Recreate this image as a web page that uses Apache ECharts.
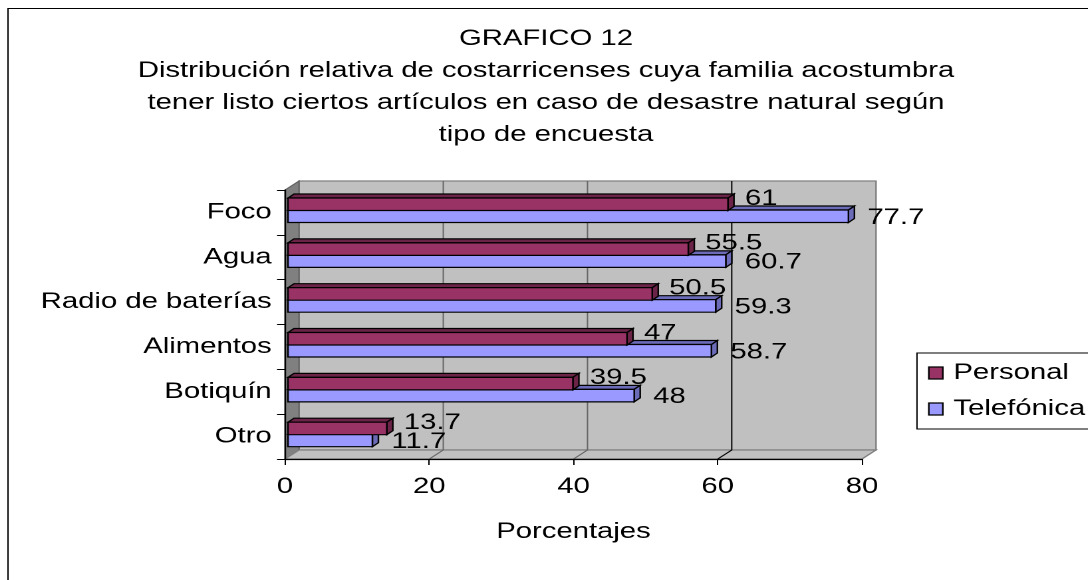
<!DOCTYPE html>
<html>
<head>
<meta charset="utf-8">
<script src="https://cdn.jsdelivr.net/npm/echarts@6/dist/echarts.min.js"></script>
<style>
  html, body { margin: 0; padding: 0; background: #fff; overflow: hidden; }
  /* the source picture is stretched sideways, so the chart is drawn narrow and scaled */
  #chart { width: 818px; height: 580px; transform: scaleX(1.33); transform-origin: 0 0; }
</style>
</head>
<body>
<div id="chart"></div>
<script>
const categories = ['Foco', 'Agua', 'Radio de baterías', 'Alimentos', 'Botiquín', 'Otro'];
const personal = [61, 55.5, 50.5, 47, 39.5, 13.7];
const telefonica = [77.7, 60.7, 59.3, 58.7, 48, 11.7];
const xTicks = [0, 20, 40, 60, 80];

const S = 1.33;
const X = v => v / S;          // real horizontal pixels -> chart pixels
const FONT = 'Liberation Sans, Arial, sans-serif';
const WALL_DX = X(14), WALL_DY = 9;
const CAP_DX = X(6), CAP_DY = 4;
const BAR_H = 12.5;

function barRenderer(offY, labelDx, labelDy, front, shade) {
  return function (params, api) {
    const v = api.value(0), idx = api.value(1);
    const a = api.coord([0, idx]);
    const b = api.coord([v, idx]);
    const x0 = a[0] + X(3), x1 = b[0] + X(3);
    const yT = a[1] + offY, yB = yT + BAR_H;
    const line = { stroke: '#000', lineWidth: 1.2 };
    return {
      type: 'group',
      children: [
        { type: 'polygon', shape: { points: [[x0, yT], [x0 + CAP_DX, yT - CAP_DY], [x1 + CAP_DX, yT - CAP_DY], [x1, yT]] },
          style: Object.assign({ fill: shade }, line) },
        { type: 'polygon', shape: { points: [[x1, yT], [x1 + CAP_DX, yT - CAP_DY], [x1 + CAP_DX, yB - CAP_DY], [x1, yB]] },
          style: Object.assign({ fill: shade }, line) },
        { type: 'rect', shape: { x: x0, y: yT, width: x1 - x0, height: BAR_H },
          style: Object.assign({ fill: front }, line) },
        { type: 'text', style: { text: String(v), x: x1 + X(labelDx), y: yT + BAR_H / 2 + labelDy,
          fill: '#000', fontSize: 22, fontFamily: FONT, align: 'left', verticalAlign: 'middle' } }
      ]
    };
  };
}

const chart = echarts.init(document.getElementById('chart'), null, { devicePixelRatio: 2 });

const option = {
  backgroundColor: '#fff',
  animation: false,
  textStyle: { fontFamily: FONT, color: '#000' },
  title: {
    text: 'GRAFICO 12\nDistribución relativa de costarricenses cuya familia acostumbra\ntener listo ciertos artículos en caso de desastre natural según\ntipo de encuesta',
    left: X(546),
    textAlign: 'center',
    top: 23,
    padding: 0,
    textStyle: { fontFamily: FONT, fontSize: 22, fontWeight: 'normal', color: '#000', lineHeight: 32 }
  },
  legend: {
    orient: 'vertical',
    left: X(917),
    top: 353,
    itemWidth: X(14),
    itemHeight: 12,
    itemGap: 12,
    padding: [8, 60, 8, X(11)],
    borderColor: '#000',
    borderWidth: 1,
    icon: 'rect',
    itemStyle: { borderColor: '#000', borderWidth: 1.2 },
    textStyle: { fontFamily: FONT, fontSize: 22, color: '#000', lineHeight: 24, padding: [0, 0, 0, 3] },
    data: ['Personal', 'Telefónica']
  },
  grid: { left: X(285), top: 190, width: X(577), height: 269, show: false },
  xAxis: {
    type: 'value',
    min: 0, max: 80, interval: 20,
    axisLine: { show: true, lineStyle: { color: '#000', width: 1.2 } },
    axisTick: { show: true, length: 6, lineStyle: { color: '#000' } },
    splitLine: { show: false },
    axisLabel: { fontFamily: FONT, fontSize: 22, color: '#000', margin: 17,
      formatter: v => xTicks.includes(v) ? String(v) : '' },
    name: 'Porcentajes',
    nameLocation: 'middle',
    nameGap: 62,
    nameTextStyle: { fontFamily: FONT, fontSize: 22, color: '#000' }
  },
  yAxis: {
    type: 'category',
    inverse: true,
    data: categories,
    axisLine: { show: true, lineStyle: { color: '#000', width: 1.2 } },
    axisTick: { show: true, length: 6, lineStyle: { color: '#000' } },
    axisLabel: { fontFamily: FONT, fontSize: 22, color: '#000', margin: 10, padding: [5, 0, 0, 0] }
  },
  series: [
    {
      name: 'Telefónica', type: 'custom', coordinateSystem: 'cartesian2d',
      itemStyle: { color: '#9999ff' },
      encode: { x: 0, y: 1 },
      data: telefonica.map((v, i) => [v, i]),
      renderItem: barRenderer(-2.4, 19, 1.5, '#9999ff', '#6b6bb8'),
      z: 3
    },
    {
      name: 'Personal', type: 'custom', coordinateSystem: 'cartesian2d',
      itemStyle: { color: '#993366' },
      encode: { x: 0, y: 1 },
      data: personal.map((v, i) => [v, i]),
      renderItem: barRenderer(-14.4, 17, -5.5, '#993366', '#6b2447'),
      z: 4
    }
  ]
};

chart.setOption(option);

// 3-D side wall, back wall and floor, placed from the axis scales
const rect = chart.getModel().getComponent('grid').coordinateSystem.getRect();
const x0 = rect.x, y0 = rect.y, x1 = rect.x + rect.width, y1 = rect.y + rect.height;
const gfx = [];
gfx.push({ type: 'rect', z: -20, shape: { x: X(8), y: 8.5, width: 900, height: 600 },
  style: { fill: '#fff', stroke: '#000', lineWidth: 1 } });
gfx.push({ type: 'polygon', z: -10, shape: { points: [[x0 + WALL_DX, y0 - WALL_DY], [x1 + WALL_DX, y0 - WALL_DY], [x1 + WALL_DX, y1 - WALL_DY], [x0 + WALL_DX, y1 - WALL_DY]] },
  style: { fill: '#c0c0c0', stroke: '#808080', lineWidth: 1.2 } });
gfx.push({ type: 'polygon', z: -9, shape: { points: [[x0, y0], [x0 + WALL_DX, y0 - WALL_DY], [x0 + WALL_DX, y1 - WALL_DY], [x0, y1]] },
  style: { fill: '#808080', stroke: '#606060', lineWidth: 1 } });
gfx.push({ type: 'polygon', z: -9, shape: { points: [[x0, y1], [x0 + WALL_DX, y1 - WALL_DY], [x1 + WALL_DX, y1 - WALL_DY], [x1, y1]] },
  style: { fill: '#c0c0c0', stroke: '#808080', lineWidth: 1.2 } });
xTicks.slice(1, -1).forEach(v => {
  const px = chart.convertToPixel({ xAxisIndex: 0 }, v);
  gfx.push({ type: 'polyline', z: -8, shape: { points: [[px, y1], [px + WALL_DX, y1 - WALL_DY], [px + WALL_DX, y0 - WALL_DY]] },
    style: { stroke: v === 60 ? '#000' : '#666', lineWidth: 1, fill: null } });
});
chart.setOption({ graphic: gfx });
</script>
</body>
</html>
